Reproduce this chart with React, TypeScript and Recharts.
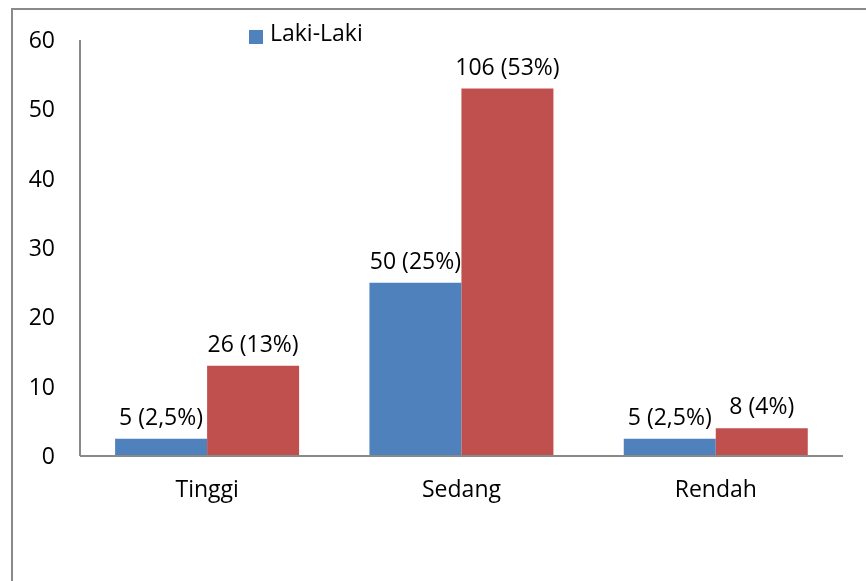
import { BarChart, Bar, XAxis, YAxis, Legend, LabelList } from "recharts";

const categories = ["Tinggi", "Sedang", "Rendah"];
const lakiValues = [2.5, 25, 2.5];
const perempuanValues = [13, 53, 4];
const lakiLabels = ["5 (2,5%)", "50 (25%)", "5 (2,5%)"];
const perempuanLabels = ["26 (13%)", "106 (53%)", "8 (4%)"];
const yTicks = [0, 10, 20, 30, 40, 50, 60];

const FONT = "'Open Sans', sans-serif";
const AXIS = "#8a8a8a";
const FS = 23;

const data = categories.map((name, i) => ({
  name,
  laki: lakiValues[i],
  perempuan: perempuanValues[i],
  lakiLabel: lakiLabels[i],
  perempuanLabel: perempuanLabels[i],
}));

export default function App() {
  return (
    <>
      <div
        style={{
          position: "fixed",
          left: 11,
          top: 8,
          right: -10,
          bottom: -10,
          borderLeft: `2px solid ${AXIS}`,
          borderTop: `2px solid ${AXIS}`,
        }}
      />
      <div style={{ position: "fixed", left: 0, top: 0, fontFamily: FONT }}>
        <BarChart
          width={866}
          height={581}
          data={data}
          margin={{ top: 40, right: 23, bottom: 95, left: 0 }}
          barCategoryGap="13.8%"
          barGap={0}
        >
          <XAxis
            dataKey="name"
            axisLine={{ stroke: AXIS, strokeWidth: 2 }}
            tickLine={false}
            tickSize={0}
            tickMargin={25}
            tick={{ fill: "#000", fontSize: FS, fontFamily: FONT }}
          />
          <YAxis
            width={80}
            domain={[0, 60]}
            ticks={yTicks}
            axisLine={{ stroke: AXIS, strokeWidth: 2 }}
            tickLine={false}
            tickSize={0}
            tickMargin={25}
            tick={{ fill: "#000", fontSize: FS, fontFamily: FONT }}
          />
          <Legend
            verticalAlign="middle"
            align="center"
            layout="horizontal"
            iconType="square"
            iconSize={14}
            wrapperStyle={{ top: 16, left: 249, width: "auto" }}
            formatter={(value: string) => (
              <span
                style={{
                  color: "#000",
                  fontSize: FS,
                  fontFamily: FONT,
                  marginLeft: 3,
                }}
              >
                {value}
              </span>
            )}
          />
          <Bar
            dataKey="laki"
            name="Laki-Laki"
            fill="#4F81BD"
            isAnimationActive={false}
          >
            <LabelList
              dataKey="lakiLabel"
              position="top"
              offset={14}
              fill="#000"
              fontSize={FS}
              fontFamily={FONT}
            />
          </Bar>
          <Bar
            dataKey="perempuan"
            name="Perempuan"
            fill="#C0504D"
            legendType="none"
            isAnimationActive={false}
          >
            <LabelList
              dataKey="perempuanLabel"
              position="top"
              offset={14}
              fill="#000"
              fontSize={FS}
              fontFamily={FONT}
            />
          </Bar>
        </BarChart>
      </div>
    </>
  );
}
